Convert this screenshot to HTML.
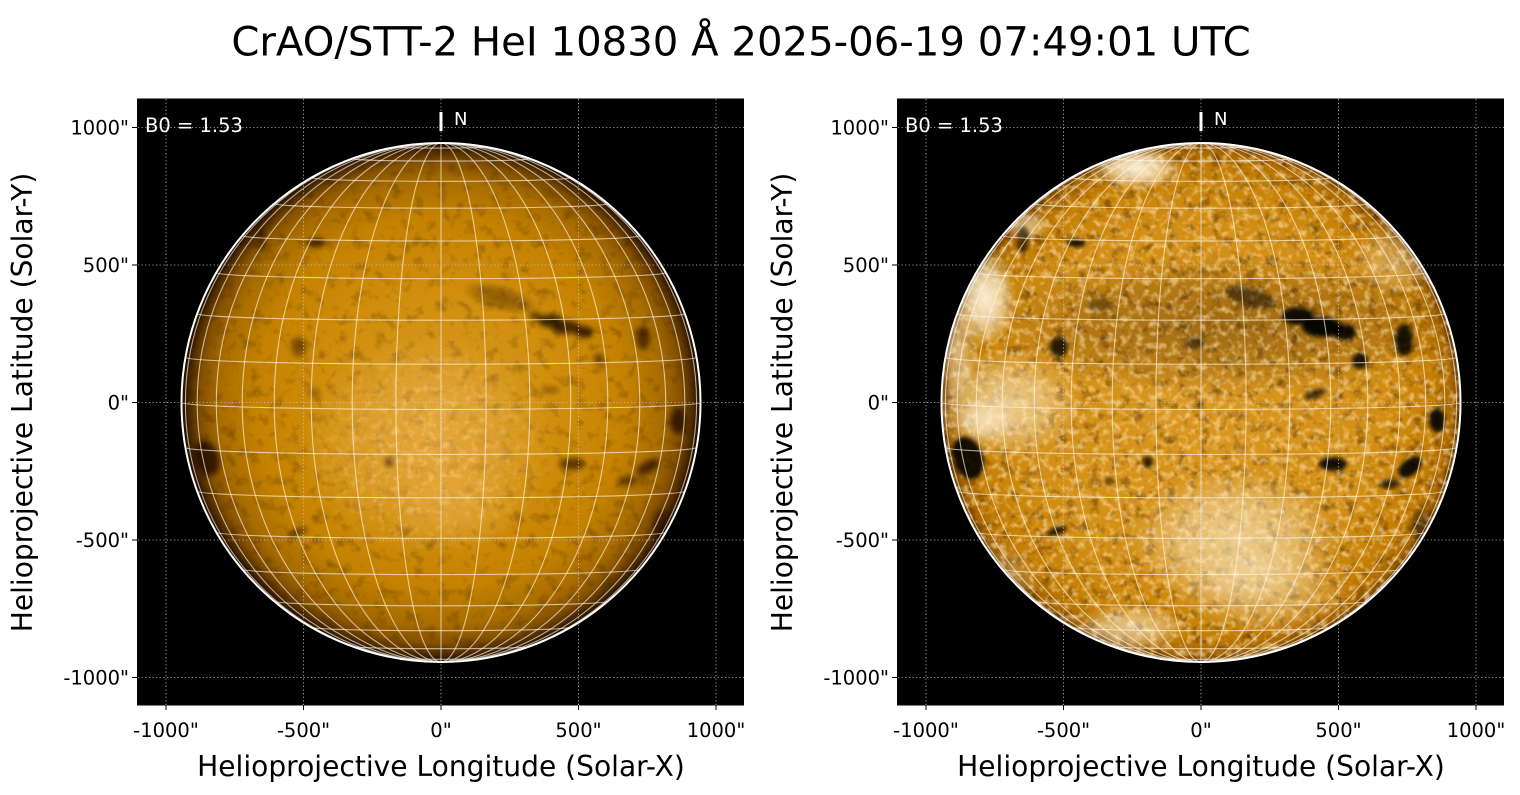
<!DOCTYPE html>
<html><head><meta charset="utf-8"><style>
html,body{margin:0;padding:0;background:#fff;width:1520px;height:795px;overflow:hidden}
svg{display:block}
text{font-family:"DejaVu Sans","Liberation Sans",sans-serif}
</style></head><body>
<svg width="1520" height="795" viewBox="0 0 1520 795" xmlns="http://www.w3.org/2000/svg">
<defs>
<clipPath id="dl"><circle cx="441" cy="402.5" r="258.5"/></clipPath>
<clipPath id="dr"><circle cx="1201" cy="402.5" r="258.5"/></clipPath>
<radialGradient id="gl" cx="441" cy="402.5" r="259" gradientUnits="userSpaceOnUse">
<stop offset="0" stop-color="#d99a22"/>
<stop offset="0.45" stop-color="#d08e0c"/>
<stop offset="0.72" stop-color="#c48200"/>
<stop offset="0.86" stop-color="#a86c00"/>
<stop offset="0.93" stop-color="#845000"/>
<stop offset="0.975" stop-color="#4a2800"/>
<stop offset="1" stop-color="#1c0c00"/>
</radialGradient>
<radialGradient id="gr" cx="1201" cy="402.5" r="259" gradientUnits="userSpaceOnUse">
<stop offset="0" stop-color="#da9822"/>
<stop offset="0.7" stop-color="#d28e14"/>
<stop offset="0.9" stop-color="#c47e04"/>
<stop offset="0.97" stop-color="#a86600"/>
<stop offset="1" stop-color="#6a3c00"/>
</radialGradient>
<radialGradient id="fw"><stop offset="0" stop-color="#fff4dc" stop-opacity="1"/><stop offset="0.5" stop-color="#fff4dc" stop-opacity="0.7"/><stop offset="1" stop-color="#fff4dc" stop-opacity="0"/></radialGradient>
<radialGradient id="fo"><stop offset="0" stop-color="#eeb454" stop-opacity="1"/><stop offset="0.55" stop-color="#eeb454" stop-opacity="0.6"/><stop offset="1" stop-color="#eeb454" stop-opacity="0"/></radialGradient>
<radialGradient id="fd"><stop offset="0" stop-color="#3a1c00" stop-opacity="1"/><stop offset="0.6" stop-color="#3a1c00" stop-opacity="0.6"/><stop offset="1" stop-color="#3a1c00" stop-opacity="0"/></radialGradient>
<radialGradient id="fm"><stop offset="0" stop-color="#fff" stop-opacity="1"/><stop offset="0.6" stop-color="#fff" stop-opacity="0.6"/><stop offset="1" stop-color="#fff" stop-opacity="0"/></radialGradient>
<filter id="b2"><feGaussianBlur stdDeviation="2"/></filter>
<filter id="b3"><feGaussianBlur stdDeviation="3"/></filter>
<filter id="tdL" color-interpolation-filters="sRGB" filterUnits="userSpaceOnUse" x="180" y="141" width="522" height="524"><feTurbulence type="fractalNoise" baseFrequency="0.08" numOctaves="3" seed="7"/><feColorMatrix type="matrix" values="0 0 0 0 0.15  0 0 0 0 0.08  0 0 0 0 0  -2.4 0 0 0 1.15"/></filter>
<filter id="tlL" color-interpolation-filters="sRGB" filterUnits="userSpaceOnUse" x="180" y="141" width="522" height="524"><feTurbulence type="fractalNoise" baseFrequency="0.14" numOctaves="2" seed="11"/><feColorMatrix type="matrix" values="0 0 0 0 1  0 0 0 0 0.86  0 0 0 0 0.6  0 3.0 0 0 -1.4"/></filter>
<filter id="tdR" color-interpolation-filters="sRGB" filterUnits="userSpaceOnUse" x="940" y="141" width="522" height="524"><feTurbulence type="fractalNoise" baseFrequency="0.09" numOctaves="3" seed="23"/><feColorMatrix type="matrix" values="0 0 0 0 0.15  0 0 0 0 0.07  0 0 0 0 0  -2.8 0 0 0 1.3"/></filter>
<filter id="tlR" color-interpolation-filters="sRGB" filterUnits="userSpaceOnUse" x="940" y="141" width="522" height="524"><feTurbulence type="fractalNoise" baseFrequency="0.14" numOctaves="2" seed="31"/><feColorMatrix type="matrix" values="0 0 0 0 1  0 0 0 0 0.88  0 0 0 0 0.66  0 3.0 0 0 -1.4"/></filter>
<mask id="mcL"><rect x="137" y="98" width="607" height="607" fill="#000"/><ellipse cx="428" cy="450" rx="130" ry="115" fill="url(#fm)"/></mask>
<g id="hg" fill="none" stroke="#fff8e8" stroke-opacity="0.65" stroke-width="1.1">
<path d="M-259.5,0A259.5,6.9 0 0 0 259.5,0M-255.6,-45.1A255.6,6.8 0 0 0 255.6,-45.1M-255.6,45.1A255.6,6.8 0 0 0 255.6,45.1M-243.8,-88.8A243.8,6.5 0 0 0 243.8,-88.8M-243.8,88.8A243.8,6.5 0 0 0 243.8,88.8M-224.7,-129.8A224.7,6 0 0 0 224.7,-129.8M-224.7,129.8A224.7,6 0 0 0 224.7,129.8M-198.8,-166.8A198.8,5.3 0 0 0 198.8,-166.8M-198.8,166.8A198.8,5.3 0 0 0 198.8,166.8M-166.8,-198.8A166.8,4.5 0 0 0 166.8,-198.8M-166.8,198.8A166.8,4.5 0 0 0 166.8,198.8M-129.8,-224.7A129.8,3.5 0 0 0 129.8,-224.7M-129.8,224.7A129.8,3.5 0 0 0 129.8,224.7M-88.8,-243.8A88.8,2.4 0 0 0 88.8,-243.8M-88.8,243.8A88.8,2.4 0 0 0 88.8,243.8M-45.1,-255.6A45.1,1.2 0 0 0 45.1,-255.6M-45.1,255.6A45.1,1.2 0 0 0 45.1,255.6"/>
<path d="M0,-259.5V259.5M0,-259.5A45.1,259.5 0 0 1 0,259.5M0,-259.5A45.1,259.5 0 0 0 0,259.5M0,-259.5A88.8,259.5 0 0 1 0,259.5M0,-259.5A88.8,259.5 0 0 0 0,259.5M0,-259.5A129.8,259.5 0 0 1 0,259.5M0,-259.5A129.8,259.5 0 0 0 0,259.5M0,-259.5A166.8,259.5 0 0 1 0,259.5M0,-259.5A166.8,259.5 0 0 0 0,259.5M0,-259.5A198.8,259.5 0 0 1 0,259.5M0,-259.5A198.8,259.5 0 0 0 0,259.5M0,-259.5A224.7,259.5 0 0 1 0,259.5M0,-259.5A224.7,259.5 0 0 0 0,259.5M0,-259.5A243.8,259.5 0 0 1 0,259.5M0,-259.5A243.8,259.5 0 0 0 0,259.5M0,-259.5A255.6,259.5 0 0 1 0,259.5M0,-259.5A255.6,259.5 0 0 0 0,259.5"/>
</g>
<g id="dots" fill="none" stroke="#c8c8c8" stroke-width="0.8" stroke-dasharray="1.2,2.4">
<path d="M166,99V705M303.5,99V705M441,99V705M578.5,99V705M716,99V705M138,127.5H744M138,265H744M138,402.5H744M138,540H744M138,677.5H744"/>
</g>
</defs>

<!-- Title -->
<text x="741" y="55.5" font-size="40.2" text-anchor="middle" fill="#000">CrAO/STT-2 HeI 10830 Å 2025-06-19 07:49:01 UTC</text>

<!-- ========== LEFT PANEL ========== -->
<rect x="137.5" y="99" width="606" height="606" fill="#000" stroke="#000" stroke-width="1"/>
<g clip-path="url(#dl)">
<rect x="180" y="141" width="522" height="524" fill="url(#gl)"/>
<rect x="180" y="141" width="522" height="524" filter="url(#tdL)" opacity="0.32"/>
<ellipse cx="428" cy="445" rx="125" ry="110" fill="url(#fo)" opacity="0.55"/>
<ellipse cx="455" cy="505" rx="65" ry="45" fill="url(#fo)" opacity="0.35"/>
<g mask="url(#mcL)"><rect x="180" y="141" width="522" height="524" filter="url(#tlL)" opacity="0.5"/></g>
<ellipse cx="500" cy="298" rx="40" ry="14" transform="rotate(15 500 298)" fill="url(#fd)" opacity="0.45"/>
<g fill="#140800" filter="url(#b3)">
<ellipse cx="550" cy="321" rx="12" ry="6" opacity="0.85"/>
<ellipse cx="566" cy="327" rx="14" ry="7" opacity="0.7"/>
<ellipse cx="584" cy="332" rx="9" ry="6" opacity="0.75"/>
<ellipse cx="535" cy="316" rx="6" ry="4" opacity="0.6"/>
<ellipse cx="643" cy="338" rx="7" ry="12" opacity="0.6"/>
<ellipse cx="599" cy="359" rx="5" ry="5" opacity="0.6"/>
<ellipse cx="678" cy="421" rx="8" ry="13" opacity="0.7"/>
<ellipse cx="572" cy="464" rx="13" ry="6" opacity="0.6"/>
<ellipse cx="648" cy="467" rx="13" ry="6" transform="rotate(-30 648 467)" opacity="0.65"/>
<ellipse cx="628" cy="481" rx="9" ry="5" opacity="0.5"/>
<ellipse cx="207" cy="458" rx="12" ry="18" transform="rotate(-20 207 458)" opacity="0.7"/>
<ellipse cx="389" cy="462" rx="4" ry="5" opacity="0.6"/>
<ellipse cx="298" cy="532" rx="10" ry="3" transform="rotate(-20 298 532)" opacity="0.6"/>
<ellipse cx="316" cy="243" rx="9" ry="4" opacity="0.7"/>
<ellipse cx="261" cy="238" rx="4" ry="14" opacity="0.5"/>
<ellipse cx="299" cy="347" rx="8" ry="10" opacity="0.4"/>
<ellipse cx="550" cy="390" rx="9" ry="3" opacity="0.4"/>
<ellipse cx="660" cy="525" rx="8" ry="16" opacity="0.4"/>
<ellipse cx="314" cy="393" rx="6" ry="4" opacity="0.35"/>
</g>
</g>
<use href="#hg" x="441" y="402.5"/>
<circle cx="441" cy="402.5" r="259.5" fill="none" stroke="#fff" stroke-width="2"/>
<use href="#dots"/>
<line x1="441" y1="112" x2="441" y2="131" stroke="#fff" stroke-width="3"/>
<text x="454" y="125" font-size="18" fill="#fff">N</text>
<text x="145" y="132" font-size="19.5" fill="#fff">B0 = 1.53</text>
<g stroke="#000" stroke-width="1">
<path d="M132,127.5H137M132,265H137M132,402.5H137M132,540H137M132,677.5H137M166,705V710M303.5,705V710M441,705V710M578.5,705V710M716,705V710"/>
</g>
<g font-size="19.5" fill="#000" text-anchor="end">
<text x="129" y="134.5">1000"</text>
<text x="129" y="272">500"</text>
<text x="129" y="409.5">0"</text>
<text x="129" y="547">-500"</text>
<text x="129" y="684.5">-1000"</text>
</g>
<g font-size="19.5" fill="#000" text-anchor="middle">
<text x="166" y="737">-1000"</text>
<text x="303.5" y="737">-500"</text>
<text x="441" y="737">0"</text>
<text x="578.5" y="737">500"</text>
<text x="716" y="737">1000"</text>
</g>
<text x="441" y="776" font-size="28.1" text-anchor="middle" fill="#000">Helioprojective Longitude (Solar-X)</text>
<text transform="translate(32,402.5) rotate(-90)" font-size="28.1" text-anchor="middle" fill="#000">Helioprojective Latitude (Solar-Y)</text>

<!-- ========== RIGHT PANEL ========== -->
<rect x="897.5" y="99" width="606" height="606" fill="#000" stroke="#000" stroke-width="1"/>
<g clip-path="url(#dr)">
<rect x="940" y="141" width="522" height="524" fill="url(#gr)"/>
<ellipse cx="1225" cy="325" rx="240" ry="70" fill="url(#fd)" opacity="0.35"/>
<rect x="940" y="141" width="522" height="524" filter="url(#tdR)" opacity="0.45"/>
<rect x="940" y="141" width="522" height="524" filter="url(#tlR)" opacity="0.6"/>
<g fill="url(#fw)">
<ellipse cx="1137" cy="168" rx="45" ry="22" opacity="0.95"/>
<ellipse cx="985" cy="298" rx="32" ry="50" opacity="0.95"/>
<ellipse cx="1025" cy="225" rx="26" ry="15" opacity="0.55"/>
<ellipse cx="1005" cy="405" rx="75" ry="55" opacity="0.6"/>
<ellipse cx="985" cy="420" rx="32" ry="22" opacity="0.6"/>
<ellipse cx="958" cy="350" rx="18" ry="55" opacity="0.55"/>
<ellipse cx="1235" cy="540" rx="105" ry="70" opacity="0.6"/>
<ellipse cx="1265" cy="590" rx="85" ry="45" opacity="0.4"/>
<ellipse cx="1130" cy="628" rx="58" ry="24" opacity="0.6"/>
<ellipse cx="1395" cy="260" rx="45" ry="38" opacity="0.35"/>
<ellipse cx="1000" cy="580" rx="38" ry="38" opacity="0.3"/>
</g>
<g fill="#000" filter="url(#b2)">
<ellipse cx="1298" cy="316" rx="16" ry="9" opacity="0.9"/>
<ellipse cx="1322" cy="327" rx="20" ry="10" opacity="0.95"/>
<ellipse cx="1344" cy="332" rx="12" ry="8" opacity="0.9"/>
<ellipse cx="1250" cy="297" rx="26" ry="9" transform="rotate(15 1250 297)" opacity="0.5"/>
<ellipse cx="1404" cy="340" rx="9" ry="16" opacity="0.85"/>
<ellipse cx="1360" cy="361" rx="8" ry="8" opacity="0.85"/>
<ellipse cx="1315" cy="394" rx="12" ry="4" transform="rotate(-20 1315 394)" opacity="0.7"/>
<ellipse cx="1437" cy="420" rx="8" ry="12" opacity="0.9"/>
<ellipse cx="1333" cy="464" rx="14" ry="7" opacity="0.9"/>
<ellipse cx="1410" cy="467" rx="14" ry="8" transform="rotate(-40 1410 467)" opacity="0.9"/>
<ellipse cx="1390" cy="484" rx="10" ry="5" opacity="0.7"/>
<ellipse cx="968" cy="458" rx="15" ry="22" transform="rotate(-20 968 458)" opacity="0.9"/>
<ellipse cx="1059" cy="347" rx="9" ry="10" opacity="0.8"/>
<ellipse cx="1076" cy="243" rx="9" ry="4" opacity="0.9"/>
<ellipse cx="1023" cy="240" rx="6" ry="14" opacity="0.6"/>
<ellipse cx="1148" cy="462" rx="5" ry="6" opacity="0.8"/>
<ellipse cx="1057" cy="531" rx="11" ry="4" transform="rotate(-20 1057 531)" opacity="0.8"/>
<ellipse cx="1109" cy="481" rx="4" ry="4" opacity="0.6"/>
<ellipse cx="1200" cy="405" rx="4" ry="4" opacity="0.6"/>
<ellipse cx="1195" cy="343" rx="10" ry="6" opacity="0.5"/>
<ellipse cx="1100" cy="305" rx="14" ry="6" opacity="0.35"/>
<ellipse cx="1420" cy="525" rx="8" ry="16" opacity="0.4"/>
</g>
</g>
<use href="#hg" x="1201" y="402.5"/>
<circle cx="1201" cy="402.5" r="259.5" fill="none" stroke="#fff" stroke-width="2"/>
<use href="#dots" x="760"/>
<line x1="1201" y1="112" x2="1201" y2="131" stroke="#fff" stroke-width="3"/>
<text x="1214" y="125" font-size="18" fill="#fff">N</text>
<text x="905" y="132" font-size="19.5" fill="#fff">B0 = 1.53</text>
<g stroke="#000" stroke-width="1">
<path d="M892,127.5H897M892,265H897M892,402.5H897M892,540H897M892,677.5H897M926,705V710M1063.5,705V710M1201,705V710M1338.5,705V710M1476,705V710"/>
</g>
<g font-size="19.5" fill="#000" text-anchor="end">
<text x="889" y="134.5">1000"</text>
<text x="889" y="272">500"</text>
<text x="889" y="409.5">0"</text>
<text x="889" y="547">-500"</text>
<text x="889" y="684.5">-1000"</text>
</g>
<g font-size="19.5" fill="#000" text-anchor="middle">
<text x="926" y="737">-1000"</text>
<text x="1063.5" y="737">-500"</text>
<text x="1201" y="737">0"</text>
<text x="1338.5" y="737">500"</text>
<text x="1476" y="737">1000"</text>
</g>
<text x="1201" y="776" font-size="28.1" text-anchor="middle" fill="#000">Helioprojective Longitude (Solar-X)</text>
<text transform="translate(792,402.5) rotate(-90)" font-size="28.1" text-anchor="middle" fill="#000">Helioprojective Latitude (Solar-Y)</text>
</svg>
</body></html>
